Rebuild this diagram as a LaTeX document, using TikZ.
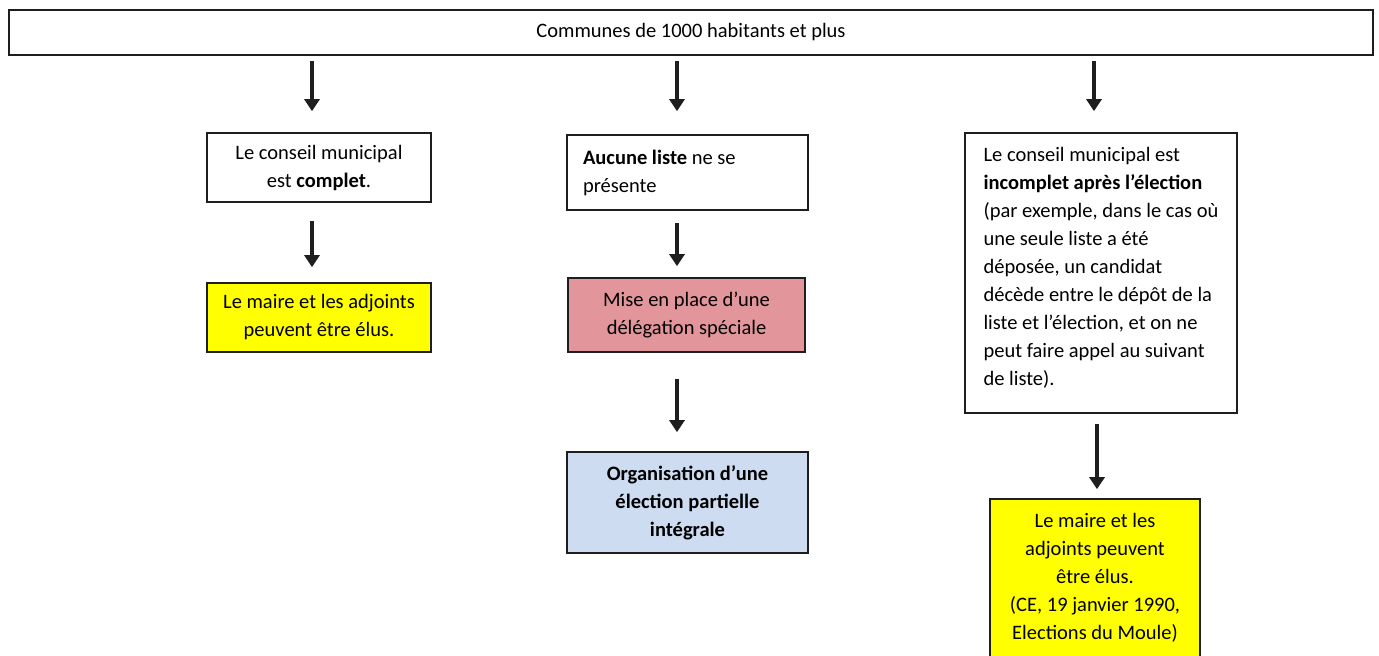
\documentclass[tikz,border=0pt]{standalone}
\usepackage{fontspec}
\setmainfont{Carlito}
\usetikzlibrary{arrows.meta}
\definecolor{boxyellow}{RGB}{255,255,0}
\definecolor{boxpink}{RGB}{226,150,155}
\definecolor{boxblue}{RGB}{205,220,240}
\definecolor{inkline}{RGB}{30,30,30}
\tikzset{
  basebox/.style={draw=inkline, line width=1.6pt, rectangle, inner sep=0pt,
    font=\fontsize{20.5}{28}\selectfont, text=black},
  cbox/.style={basebox, align=center},
  lbox/.style={basebox, align=flush left, inner xsep=16pt},
  arr/.style={draw=inkline, line width=3.2pt,
    -{Triangle[width=15pt,length=12pt]}}
}
\begin{document}
\begin{tikzpicture}[x=1pt,y=-1pt]
\useasboundingbox (0,0) rectangle (1379,656);
\clip (0,0) rectangle (1379,656);
\fill[white] (0,0) rectangle (1379,656);

\node[cbox, minimum width=1364pt, minimum height=45pt] (top) at (691,32.5)
  {Communes de 1000 habitants et plus};

\node[cbox, minimum width=224pt, minimum height=69pt] (b1) at (319,167.5)
  {Le conseil municipal\\est \textbf{complet}.};
\node[cbox, fill=boxyellow, minimum width=224pt, minimum height=69pt] (y1) at (319,317.5)
  {Le maire et les adjoints\\peuvent être élus.};

\node[lbox, text width=209pt, minimum height=75pt] (b2) at (687.5,172.5)
  {\textbf{Aucune liste} ne se\\présente};
\node[cbox, fill=boxpink, minimum width=237pt, minimum height=74pt] (p2) at (686.5,315)
  {Mise en place d’une\\délégation spéciale};
\node[cbox, fill=boxblue, minimum width=241pt, minimum height=101pt] (l2) at (687.5,502.5)
  {\textbf{Organisation d’une}\\\textbf{élection partielle}\\\textbf{intégrale}};

\node[basebox, align=left, minimum width=272pt, minimum height=280pt] (b3) at (1101,273)
  {Le conseil municipal est\\\textbf{incomplet après l’élection}\\(par exemple, dans le cas où\\une seule liste a été\\déposée, un candidat\\décède entre le dépôt de la\\liste et l’élection, et on ne\\peut faire appel au suivant\\de liste).\rule[-13pt]{0pt}{0pt}};
\node[cbox, fill=boxyellow, minimum width=210pt, minimum height=158pt] (y3) at (1095,578)
  {Le maire et les\\adjoints peuvent\\être élus.\\(CE, 19 janvier 1990,\\Elections du Moule)};

% arrows from the title box
\draw[arr, shorten <=5pt, shorten >=21pt] (top.south -| 312,0) -- (b1.north -| 312,0);
\draw[arr, shorten <=5pt, shorten >=23pt] (top.south -| 677,0) -- (b2.north -| 677,0);
\draw[arr, shorten <=5pt, shorten >=21pt] (top.south -| 1094,0) -- (b3.north -| 1094,0);

% column arrows
\draw[arr, shorten <=18pt, shorten >=15pt] (b1.south -| 312,0) -- (y1.north -| 312,0);
\draw[arr, shorten <=12pt, shorten >=11pt] (b2.south -| 677,0) -- (p2.north -| 677,0);
\draw[arr, shorten <=26pt, shorten >=19pt] (p2.south -| 677,0) -- (l2.north -| 677,0);
\draw[arr, shorten <=10pt, shorten >=9pt] (b3.south -| 1097,0) -- (y3.north -| 1097,0);
\end{tikzpicture}
\end{document}
